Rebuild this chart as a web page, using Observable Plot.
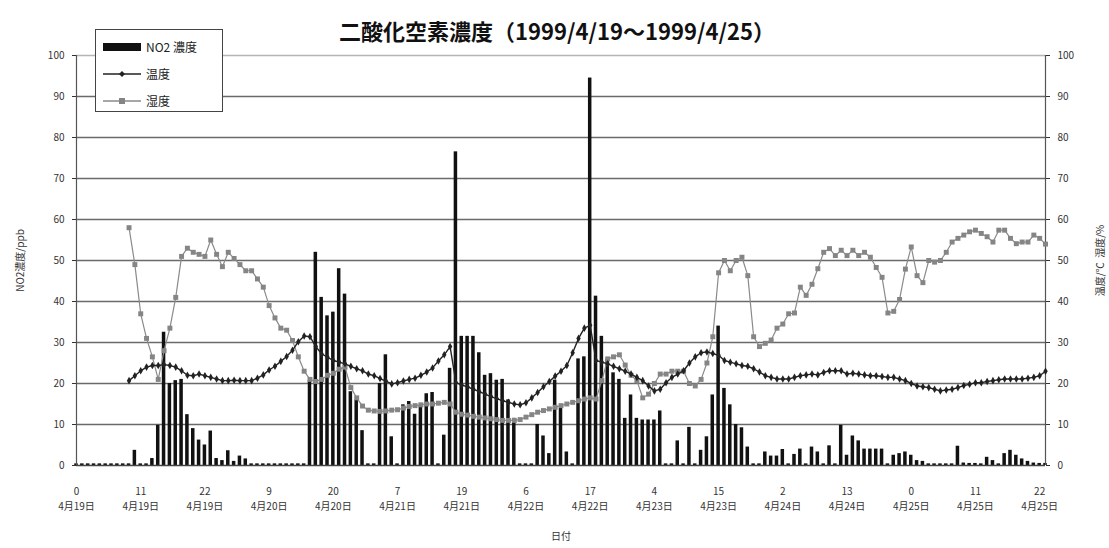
<!DOCTYPE html>
<html>
<head>
<meta charset="utf-8">
<script src="https://cdn.jsdelivr.net/npm/d3@7"></script>
<script src="https://cdn.jsdelivr.net/npm/@observablehq/plot@0.6"></script>
<style>
  body { margin: 0; background: #fff; font-family: "Noto Sans CJK JP", "Noto Sans", sans-serif; }
  #wrap { position: relative; width: 1109px; height: 548px; overflow: hidden; }
  #title { height: 42px; width: 1114px; text-align: center; font-size: 22px; font-weight: bold; line-height: 22px; box-sizing: border-box; padding-top: 19px; color: #111; }
  #legend { position: absolute; left: 95px; top: 29px; width: 128px; height: 83px; border: 1px solid #444; background: #fff; font-size: 12px; color: #222; box-sizing: border-box; padding-top: 3px; }
  #legend .row { display: flex; align-items: center; height: 27px; padding-left: 6px; }
  #legend svg { margin-right: 4px; }
</style>
</head>
<body>
<div id="wrap">
  <div id="title">二酸化空素濃度（1999/4/19～1999/4/25）</div>
  <div id="chart"></div>
  <div id="legend">
    <div class="row"><svg width="40" height="12"><rect x="1" y="2" width="38" height="8" fill="#111"/></svg>NO2 濃度</div>
    <div class="row"><svg width="40" height="12"><line x1="1" y1="6" x2="39" y2="6" stroke="#222" stroke-width="1.3"/><path d="M20,3 L23,6 L20,9 L17,6 Z" fill="#222"/></svg>温度</div>
    <div class="row"><svg width="40" height="12"><line x1="1" y1="6" x2="39" y2="6" stroke="#8a8a8a" stroke-width="1.3"/><rect x="17" y="3" width="6" height="6" fill="#858585"/></svg>湿度</div>
  </div>
</div>
<script>
// hourly categories: index 0 = 4/19 0h ... (one hour missing on 4/21 between 7h and 19h)
const no2 = [
  0.4,0.4,0.4,0.4,0.4,0.4,0.4,0.4,0.4,0.4,
  3.7,0.4,0.4,1.7,9.8,32.5,20,20.7,21,12.4,
  9,6.2,5,8.4,1.7,1.2,3.6,1,2.3,1.6,
  0.4,0.4,0.4,0.4,0.4,0.4,0.4,0.4,0.4,0.4,
  20.7,52,41,36.5,37.4,48,41.8,18,16,8.5,
  0.4,0.4,20,27,7,0.4,14.8,15.6,12.5,14.7,
  17.5,17.8,0.4,7.4,23.7,76.5,31.5,31.5,31.5,27.5,
  22,22.4,20.8,21,16,11.5,0.4,0.4,0.4,10,
  7.2,2.9,20.8,14,3.3,0.4,26,26.5,94.5,41.3,
  31.5,25.9,22.6,21,11.5,17.2,11.5,11.1,11.1,11.1,
  13.3,0.4,0.4,6,0.4,9.3,0.4,3.7,7,17.2,
  34,18.8,14.8,10,9.2,4.5,0.4,0.4,3.3,2.3,
  2.3,3.9,0.4,2.7,4,0.4,4.5,3.3,0.4,4.8,
  0.4,9.8,2.5,7.2,6,4,4,4,4,0.4,
  2.5,2.9,3.3,2.5,1.2,1,0.4,0.4,0.4,0.4,
  0.4,4.7,0.6,0.5,0.5,0.4,2,1.2,0.4,2.9,
  3.7,2.5,1.6,1,0.6,0.5,0.5
];
const temperature = [
  null,null,null,null,null,null,null,null,null,20.7,
  21.9,23.1,24,24.4,24.4,24.6,24.4,24,23.1,22,
  21.9,22.3,21.9,21.5,21.1,20.7,20.7,20.8,20.7,20.7,
  20.7,21.3,22.1,23.3,24.2,25.4,26.6,28.1,30.2,31.6,
  31.4,29,27.2,26.4,25.6,25.2,24.8,24.2,23.6,23.1,
  22.3,21.9,21.2,20.6,19.9,20.2,20.6,21,21.3,22,
  22.8,23.8,25.5,27,29,20.2,19.6,19.2,18.6,18,
  17.4,16.8,16.3,15.8,15.4,15,14.8,15.3,16.5,17.8,
  19.2,20.5,21.8,23,24.4,27.5,31,33.5,34.2,25.6,
  25.2,24.8,24.2,23.6,23,22.3,21.5,20.7,19.4,18.2,
  18.6,20.2,21.5,22.3,23.1,25,26.5,27.5,27.7,27.3,
  26.9,25.6,25.2,24.8,24.4,24.2,23.6,22.8,21.9,21.5,
  21.1,21.1,21.1,21.5,21.9,22.1,22.3,22.1,22.7,23.1,
  23.1,23.1,22.3,22.5,22.3,22.1,21.9,21.9,21.7,21.5,
  21.5,21.1,20.7,20,19.4,19.2,19,18.6,18.2,18.4,
  18.6,19,19.5,19.8,20.2,20.2,20.5,20.7,20.9,21.1,
  21.1,21.1,21.1,21.3,21.5,21.9,23
];
const humidity = [
  null,null,null,null,null,null,null,null,null,58,
  49,37,31,26.5,21,28,33.5,41,51,53,
  52,51.5,51,55,51.5,48.5,52,50.5,49,47.5,
  47.5,45.5,43.5,39,36,33.5,33,30.5,26.5,23,
  21,20.5,21,22,22.5,23.5,24,19,16.5,14.5,
  13.5,13.3,13.2,13.3,13.5,13.6,14,14.4,14.6,14.8,
  15,15,15.2,15.4,15,13,12.5,12.3,12,11.8,
  11.6,11.4,11.2,11,11,11,11.2,11.8,12.4,13,
  13.4,13.8,14.2,14.6,15,15.4,15.8,16.2,16.5,16.2,
  20.7,26,26.5,27,24.5,22,20.7,16.5,17.4,20,
  22.3,22.3,23,23,23,20,19.4,21,25,31.4,
  47,50,47.5,50,50.8,46.3,31.4,29,29.8,30.6,
  33.5,34.5,37,37.2,43.5,41.5,44.2,48,52,52.9,
  51.2,52.5,51.2,52.5,51.2,52,50.8,48.3,45.9,37.2,
  37.6,40.5,47.9,53.3,46.3,44.6,50,49.6,50,52,
  54.5,55.4,56.2,57,57.4,56.6,55.8,54.5,57.4,57.4,
  55.4,54.1,54.5,54.5,56.2,55.4,54
];
const tickIndex = [0,11,22,33,44,55,66,77,88,99,110,121,132,143,154,165];
const tickHour = ["0","11","22","9","20","7","19","6","17","4","15","2","13","0","11","22"];
const tickDate = ["4月19日","4月19日","4月19日","4月20日","4月20日","4月21日","4月21日","4月22日","4月22日","4月23日","4月23日","4月24日","4月24日","4月25日","4月25日","4月25日"];
const yTicks = [0,10,20,30,40,50,60,70,80,90,100];

const rows = no2.map((v, i) => ({i, no2: v, temp: temperature[i], hum: humidity[i]}));

const chart = Plot.plot({
  width: 1109,
  height: 506,
  marginTop: 13,
  marginBottom: 83,
  marginLeft: 76,
  marginRight: 64,
  x: {domain: [0, 166]},
  y: {domain: [0, 100]},
  style: {fontFamily: '"Noto Sans CJK JP", "Noto Sans", sans-serif', fontSize: "10px", color: "#333", background: "#fff"},
  marks: [
    Plot.ruleY(yTicks.filter(t => t > 0 && t < 100), {stroke: "#6a6a6a", strokeWidth: 1.6}),
    Plot.ruleY([100], {stroke: "#b5b5b5", strokeWidth: 1.5}),
    Plot.rectY(rows, {x1: d => d.i - 0.3, x2: d => d.i + 0.3, y: "no2", fill: "#111"}),
    Plot.ruleY([0], {stroke: "#444", strokeWidth: 1.5}),
    Plot.ruleX([0], {stroke: "#555", strokeWidth: 1.2}),
    Plot.ruleX([166], {stroke: "#555", strokeWidth: 1.2}),
    Plot.line(rows, {x: "i", y: "hum", stroke: "#8a8a8a", strokeWidth: 1.2}),
    Plot.dot(rows, {x: "i", y: "hum", symbol: "square", r: 2.8, fill: "#858585"}),
    Plot.line(rows, {x: "i", y: "temp", stroke: "#222", strokeWidth: 1.4}),
    Plot.dot(rows, {x: "i", y: "temp", symbol: "diamond", r: 2.3, fill: "#222"}),
    Plot.axisY({anchor: "left", ticks: yTicks, tickSize: 4, tickPadding: 8, label: "NO2濃度/ppb", labelAnchor: "center", labelOffset: 60, labelArrow: "none", fontSize: 10}),
    Plot.axisY({anchor: "right", ticks: yTicks, tickSize: 4, tickPadding: 8, label: "温度/℃  湿度/%", labelAnchor: "center", labelOffset: 58, labelArrow: "none", fontSize: 10}),
    Plot.axisX({ticks: tickIndex, tickSize: 0, tickPadding: 19, lineHeight: 1.5,
      tickFormat: d => tickHour[tickIndex.indexOf(d)] + "\n" + tickDate[tickIndex.indexOf(d)],
      label: "日付", labelAnchor: "center", labelOffset: 74, labelArrow: "none", fontSize: 10})
  ]
});
document.getElementById("chart").appendChild(chart);
</script>
</body>
</html>
